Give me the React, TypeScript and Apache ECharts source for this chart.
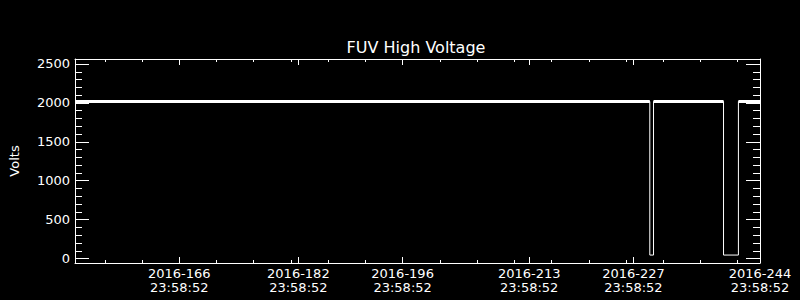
import React, { useEffect, useRef } from "react";
import * as echarts from "echarts";

const TITLE = "FUV High Voltage";
const Y_NAME = "Volts";
const X_MIN = 152;
const X_MAX = 244;
const Y_MIN = -57;
const Y_MAX = 2564;
const xMajorTicks = [166, 182, 196, 213, 227, 244];
const xTickYear = "2016";
const xTickTime = "23:58:52";
const xMinorTicks = [156, 161, 166, 171, 176, 181, 186, 191, 196, 201, 206, 211, 216, 221, 226, 231, 236, 241];
const yMajorTicks = [0, 500, 1000, 1500, 2000, 2500];
const yMinorTicks = [100, 200, 300, 400, 600, 700, 800, 900, 1100, 1200, 1300, 1400, 1600, 1700, 1800, 1900, 2100, 2200, 2300, 2400];

// Day of year (2016) and high-voltage readings
const hvDays = [152.0, 229.2, 229.2, 229.7, 229.7, 239.1, 239.1, 241.1, 241.1, 244.0];
const hvVolts = [2018, 2018, 45, 45, 2018, 2018, 45, 45, 2018, 2018];

const FONT = "DejaVu Sans";
const WHITE = "#ffffff";

function xAxis(position: "top" | "bottom", ticks: number[], len: number, line: boolean, labels: boolean) {
  return {
    type: "value",
    position,
    min: X_MIN,
    max: X_MAX,
    axisLine: { show: line, onZero: false, lineStyle: { color: WHITE, width: 1 } },
    axisTick: { show: true, inside: true, length: len, customValues: ticks, lineStyle: { color: WHITE, width: 1 } },
    axisLabel: labels
      ? {
          show: true,
          customValues: ticks,
          color: WHITE,
          fontSize: 13,
          fontFamily: FONT,
          lineHeight: 14.5,
          margin: 3,
          formatter: (v: number) => `${xTickYear}-${Math.round(v)}\n${xTickTime}`,
        }
      : { show: false },
    splitLine: { show: false },
  };
}

function yAxis(position: "left" | "right", ticks: number[], len: number, line: boolean, labels: boolean, name?: string) {
  return {
    type: "value",
    position,
    min: Y_MIN,
    max: Y_MAX,
    name: name,
    nameLocation: "middle",
    nameGap: 54,
    nameRotate: 90,
    nameTextStyle: { color: WHITE, fontSize: 13, fontFamily: FONT },
    axisLine: { show: line, onZero: false, lineStyle: { color: WHITE, width: 1 } },
    axisTick: { show: true, inside: true, length: len, customValues: ticks, lineStyle: { color: WHITE, width: 1 } },
    axisLabel: labels
      ? {
          show: true,
          customValues: ticks,
          color: WHITE,
          fontSize: 13,
          fontFamily: FONT,
          margin: 5,
          formatter: (v: number) => String(Math.round(v)),
        }
      : { show: false },
    splitLine: { show: false },
  };
}

export default function App() {
  const ref = useRef<HTMLDivElement>(null);
  useEffect(() => {
    if (!ref.current) return;
    const chart = echarts.init(ref.current, undefined, { renderer: "svg" });
    const thin = hvDays.map((d, i) => [d, hvVolts[i]]);
    const thick = hvDays.map((d, i) => (hvVolts[i] > 1000 ? [d, hvVolts[i]] : null));
    chart.setOption({
      animation: false,
      backgroundColor: "#000000",
      title: {
        text: TITLE,
        left: 416,
        top: 39,
        textAlign: "center",
        padding: 0,
        textStyle: { color: WHITE, fontSize: 16, fontWeight: "normal", fontFamily: FONT },
      },
      grid: { left: 72, right: 40, top: 59, bottom: 37, containLabel: false },
      xAxis: [
        xAxis("bottom", xMajorTicks, 6, true, true),
        xAxis("bottom", xMinorTicks, 3, false, false),
        xAxis("top", xMajorTicks, 6, true, false),
        xAxis("top", xMinorTicks, 3, false, false),
      ],
      yAxis: [
        yAxis("left", yMajorTicks, 14, true, true, Y_NAME),
        yAxis("left", yMinorTicks, 7, false, false),
        yAxis("right", yMajorTicks, 14, true, false),
        yAxis("right", yMinorTicks, 7, false, false),
      ],
      series: [
        {
          type: "line",
          xAxisIndex: 0,
          yAxisIndex: 0,
          data: thin,
          showSymbol: false,
          symbol: "none",
          lineStyle: { color: WHITE, width: 1 },
        },
        {
          type: "line",
          xAxisIndex: 0,
          yAxisIndex: 0,
          data: thick,
          connectNulls: false,
          showSymbol: false,
          symbol: "none",
          lineStyle: { color: WHITE, width: 3 },
        },
      ],
    });
    return () => chart.dispose();
  }, []);
  return (
    <div
      ref={ref}
      style={{ position: "fixed", left: 0, top: 0, width: 800, height: 300, background: "#000" }}
    />
  );
}
